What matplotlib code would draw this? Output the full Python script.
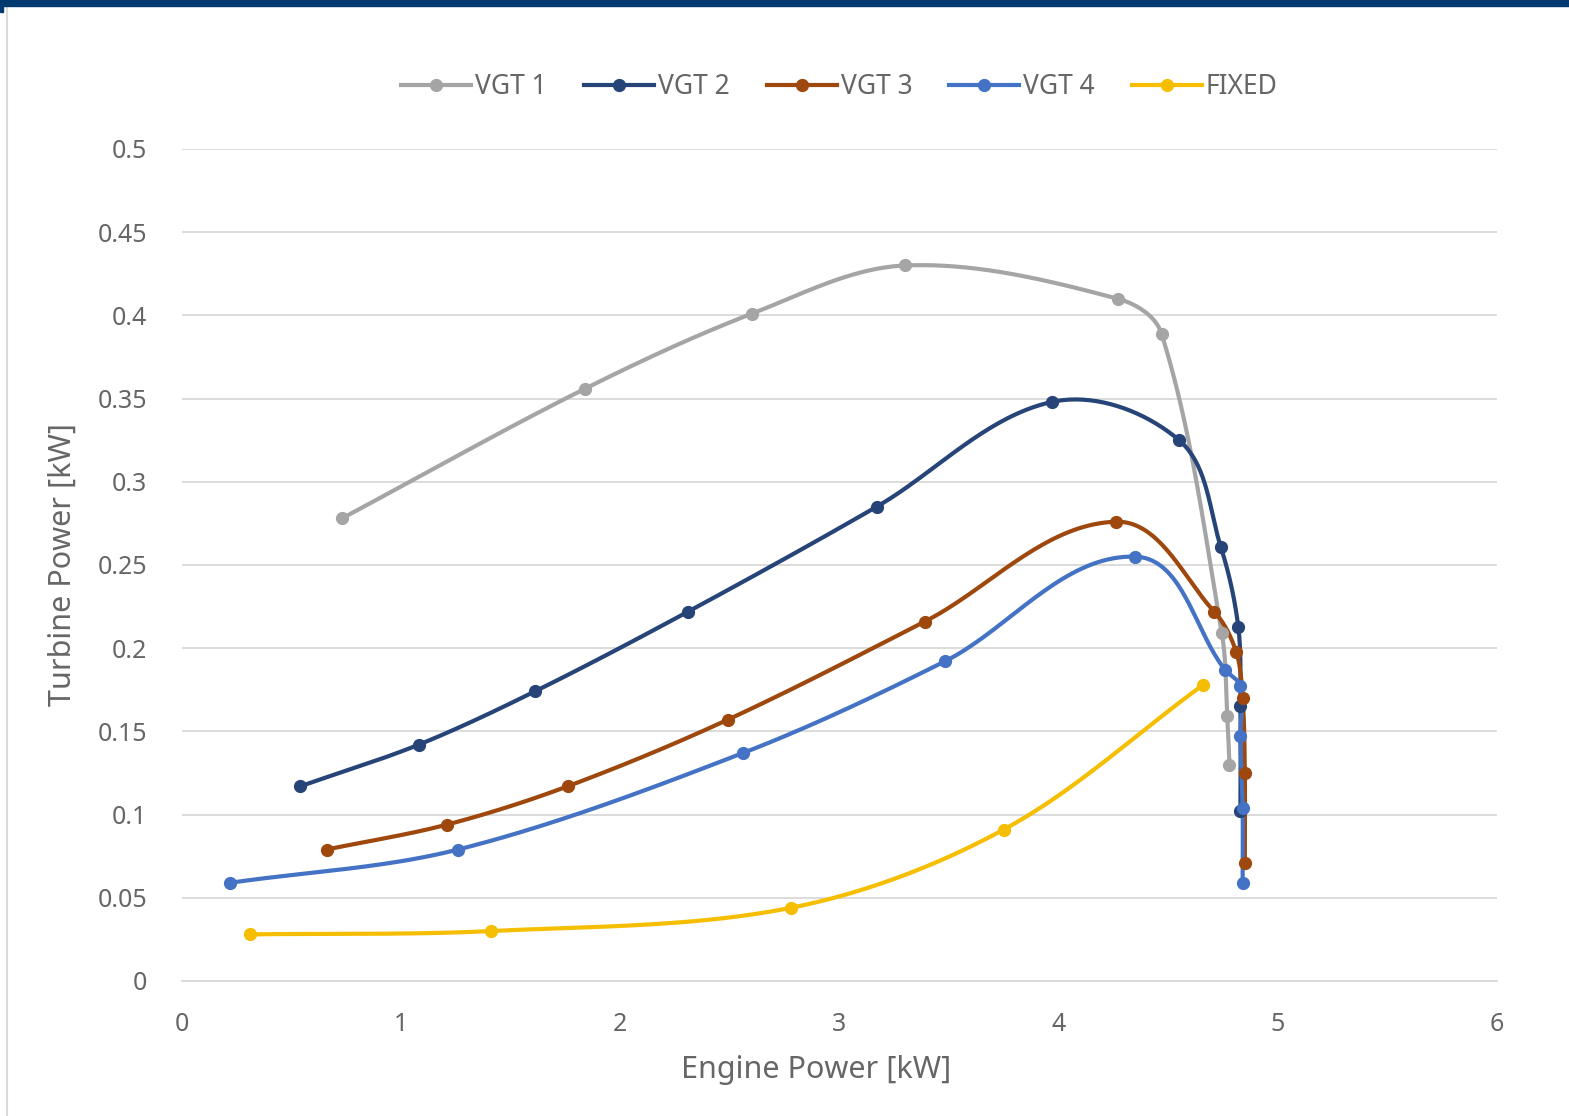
import numpy as np
import matplotlib.pyplot as plt
from matplotlib.patches import Rectangle
from matplotlib.lines import Line2D

plt.rcParams['font.family'] = ['Noto Sans', 'DejaVu Sans']

# engine power [kW] / turbine power [kW] for each turbo setting
vgt1_x = [0.73, 1.84, 2.60, 3.30, 4.27, 4.47, 4.745, 4.77, 4.78]
vgt1_y = [0.278, 0.356, 0.401, 0.430, 0.410, 0.389, 0.209, 0.159, 0.130]

vgt2_x = [0.54, 1.08, 1.61, 2.31, 3.17, 3.97, 4.55, 4.74, 4.82, 4.83, 4.83]
vgt2_y = [0.117, 0.142, 0.174, 0.222, 0.285, 0.348, 0.325, 0.261, 0.213, 0.165, 0.102]

vgt3_x = [0.66, 1.21, 1.76, 2.49, 3.39, 4.26, 4.71, 4.81, 4.84, 4.85, 4.85]
vgt3_y = [0.079, 0.094, 0.117, 0.157, 0.216, 0.276, 0.222, 0.198, 0.170, 0.125, 0.071]

vgt4_x = [0.22, 1.26, 2.56, 3.48, 4.35, 4.76, 4.83, 4.83, 4.84, 4.84]
vgt4_y = [0.059, 0.079, 0.137, 0.192, 0.255, 0.187, 0.177, 0.147, 0.104, 0.059]

fixed_x = [0.31, 1.41, 2.78, 3.75, 4.66]
fixed_y = [0.028, 0.030, 0.044, 0.091, 0.178]

names = ['VGT 1', 'VGT 2', 'VGT 3', 'VGT 4', 'FIXED']
colors = ['#A5A5A5', '#264478', '#9E480E', '#4472C4', '#F5BE00']


def smooth(x, y, n=40):
    # bezier smoothing in screen-like units; tangent length follows each segment
    sx, sy = 1315 / 6.0, 832 / 0.5
    p = np.column_stack([np.asarray(x) * sx, np.asarray(y) * sy])
    pts = np.vstack([p[0], p, p[-1]])
    t = np.linspace(0, 1, n)[:, None]
    out = []
    for i in range(1, len(pts) - 2):
        p0, p1, p2, p3 = pts[i - 1], pts[i], pts[i + 1], pts[i + 2]
        d = np.linalg.norm(p2 - p1)
        m1 = p2 - p0
        m2 = p3 - p1
        m1 = m1 / (np.linalg.norm(m1) or 1)
        m2 = m2 / (np.linalg.norm(m2) or 1)
        c1 = p1 + m1 * d / 3.0
        c2 = p2 - m2 * d / 3.0
        seg = ((1 - t) ** 3) * p1 + 3 * ((1 - t) ** 2) * t * c1 + 3 * (1 - t) * t ** 2 * c2 + t ** 3 * p2
        out.append(seg)
    out = np.vstack(out)
    return out[:, 0] / sx, out[:, 1] / sy


fig = plt.figure(figsize=(15.69, 11.16), dpi=100)
ax = fig.add_axes([0.116, 0.121, 0.838, 0.7455])

series = [(vgt1_x, vgt1_y), (vgt2_x, vgt2_y), (vgt3_x, vgt3_y), (vgt4_x, vgt4_y), (fixed_x, fixed_y)]
handles = []
for (xs, ys), name, c in zip(series, names, colors):
    lx, ly = smooth(xs, ys)
    ax.plot(lx, ly, color=c, lw=3.0, solid_capstyle='round', zorder=3)
    ax.plot(xs, ys, 'o', color=c, ms=8.5, zorder=4)
    handles.append(Line2D([], [], color=c, lw=3.0, marker='o', ms=8.5))

ax.set_xlim(0, 6)
ax.set_ylim(0, 0.5)
ax.set_xticks(range(0, 7))
ax.set_yticks(np.arange(0, 0.501, 0.05))
ax.set_yticklabels(['0', '0.05', '0.1', '0.15', '0.2', '0.25', '0.3', '0.35', '0.4', '0.45', '0.5'])
ax.grid(axis='y', color='#D9D9D9', lw=1.3)
ax.set_axisbelow(True)
for s in ['top', 'right', 'left']:
    ax.spines[s].set_visible(False)
ax.spines['bottom'].set_color('#D9D9D9')
ax.spines['bottom'].set_linewidth(1.3)
ax.tick_params(axis='y', length=0, labelsize=18, labelcolor='#666666', pad=25)
ax.tick_params(axis='x', length=0, labelsize=18, labelcolor='#666666', pad=22)

ax.set_xlabel('Engine Power [kW]', fontsize=22, color='#666666')
ax.xaxis.set_label_coords(0.482, -0.089)
ax.set_ylabel('Turbine Power [kW]', fontsize=22, color='#666666', labelpad=14)

fig.legend(handles, names, loc='center', bbox_to_anchor=(0.535, 0.922), ncol=5, frameon=False,
           fontsize=19, labelcolor='#666666', handlelength=2.65, handletextpad=0.15, columnspacing=1.4)

# page banner and border
fig.patches.append(Rectangle((0, 1 - 6 / 1116), 1, 6 / 1116, transform=fig.transFigure,
                             color='#003A70', zorder=10))
fig.patches.append(Rectangle((0, 1 - 12 / 1116), 3 / 1569, 12 / 1116, transform=fig.transFigure,
                             color='#003A70', zorder=10))
fig.lines.append(Line2D([7 / 1569, 7 / 1569], [0, 1 - 6 / 1116], transform=fig.transFigure,
                        color='#DADADA', lw=1.5))

fig.savefig('out.png', dpi=100)
